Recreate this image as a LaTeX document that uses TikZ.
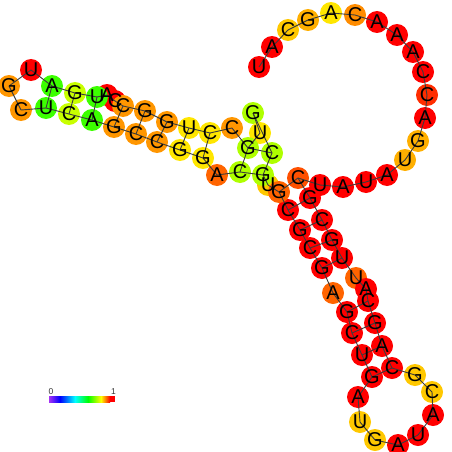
\documentclass[tikz,border=0pt]{standalone}
\usepackage{fontspec}
\setmainfont{Liberation Sans}
\definecolor{cR}{RGB}{255,0,0}
\definecolor{cRO}{RGB}{255,45,0}
\definecolor{cRO2}{RGB}{255,80,0}
\definecolor{cO2}{RGB}{255,100,0}
\definecolor{cO}{RGB}{255,150,0}
\definecolor{cO1}{RGB}{255,140,0}
\definecolor{cG1}{RGB}{255,175,0}
\definecolor{cG2}{RGB}{255,200,0}
\definecolor{cY}{RGB}{255,230,0}
\definecolor{cYG}{RGB}{175,255,0}
\definecolor{cYG2}{RGB}{200,255,0}
\definecolor{cGr}{RGB}{60,255,0}
\definecolor{cLine}{RGB}{60,60,60}
\definecolor{cbV}{RGB}{165,50,245}
\tikzset{
  ntcircle/.style={circle, fill=#1, minimum size=22pt, inner sep=0pt, draw=none},
  ntletter/.style={inner sep=0pt, font=\fontsize{20}{20}\selectfont, text=black},
  bbline/.style={draw=cLine, line width=0.9pt},
  cblabel/.style={inner sep=0pt, font=\fontsize{8.5}{9}\selectfont, text=black!80}
}
\begin{document}
\begin{tikzpicture}[x=1pt,y=-1pt]
\useasboundingbox (0,0) rectangle (452,452);
\def\ntlist{70/107/95/cR/A, 71/115/101/cR/C, 48/268/185/cG2/U,
1/259/67/cR/U, 2/272/47/cR/A, 3/288/30/cG2/C, 4/308/20/cG1/G, 5/331/13/cY/A,
6/355/15/cO1/C, 7/377/22/cR/A, 8/397/35/cR/A, 9/413/52/cR/A, 10/423/72/cR/C,
11/427/95/cRO/C, 12/425/118/cR/A, 13/418/141/cG1/G, 14/405/160/cG1/U,
15/387/175/cR/A, 16/366/182/cR/U, 17/343/187/cR/A, 18/320/185/cR/U, 19/298/178/cRO2/C,
20/310/198/cR/G, 21/322/220/cR/C, 22/332/240/cR/G, 23/342/258/cR/U, 24/356/278/cO2/U,
25/366/289/cR/A, 26/368/301/cR/C, 27/375/323/cR/G, 28/382/346/cR/A, 29/392/368/cR/C,
30/415/375/cG2/G, 31/432/392/cG2/C, 32/433/415/cR/A, 33/418/435/cR/U, 34/398/445/cR/A,
35/375/440/cG2/G, 36/360/422/cG2/U, 37/358/397/cR/A, 38/372/377/cR/G, 39/362/355/cR/U,
40/352/333/cR/C, 41/347/312/cR/G, 42/333/293/cO2/A, 43/322/268/cR/G, 44/310/248/cR/C,
45/300/230/cR/G, 46/288/210/cR/C, 47/279/192/cO2/G, 49/263/175/cYG/G,
50/272/153/cYG/C, 51/253/113/cYG/G, 52/260/133/cY/U, 53/248/148/cYG/G, 54/240/172/cYG/C,
55/217/175/cO2/A, 56/203/158/cY/G, 57/180/150/cY/G, 58/157/142/cO/C, 59/136/134/cO/C,
60/114/127/cO/G, 61/92/120/cGr/A, 62/69/114/cYG2/C, 63/46/108/cGr/U, 64/21/110/cO/C,
65/9/86/cO/G, 66/31/70/cR/U, 67/52/86/cGr/A, 68/75/93/cYG2/G, 69/97/97/cGr/U,
72/123/106/cO/C, 73/145/111/cO/G, 74/167/122/cO/G, 75/189/128/cY/U, 76/210/133/cY/C,
77/232/128/cO/C}
% circles
\foreach \n/\x/\y/\c/\l in \ntlist {
  \node[ntcircle=\c] (n\n) at (\x,\y) {};
}
% backbone
\foreach \i [evaluate=\i as \j using int(\i+1)] in {1,...,76} {
  \draw[bbline] (n\i.center) -- (n\j.center);
}
\draw[bbline] (n77.center) -- (n53.center);
% base pairs
\foreach \a/\b in {19/47, 20/46, 21/45, 22/44, 23/43, 26/41, 27/40, 28/39, 29/38,
  76/56, 75/57, 74/58, 73/59, 72/60, 69/61, 68/62, 67/63, 53/50, 54/49} {
  \draw[bbline] (n\a.center) -- (n\b.center);
}
% letters
\foreach \n/\x/\y/\c/\l in \ntlist {
  \node[ntletter] at (n\n.center) {\l};
}
% colour bar
\coordinate (cb0) at (49,396);
\coordinate (cb1) at (115,402);
\shade[left color=cbV, right color=blue] (49,396) rectangle (60,402);
\shade[left color=blue, right color=cyan] (60,396) rectangle (75,402);
\shade[left color=cyan, right color=green] (75,396) rectangle (88,402);
\shade[left color=green, right color=yellow] (88,396) rectangle (101,402);
\shade[left color=yellow, right color=red] (101,396) rectangle (110,402);
\fill[red] (110,396) rectangle (115,402);
\node[cblabel] (cbl0) at (51,391.5) {0};
\node[cblabel] (cbl1) at (113.5,391.5) {1};
\end{tikzpicture}
\end{document}
